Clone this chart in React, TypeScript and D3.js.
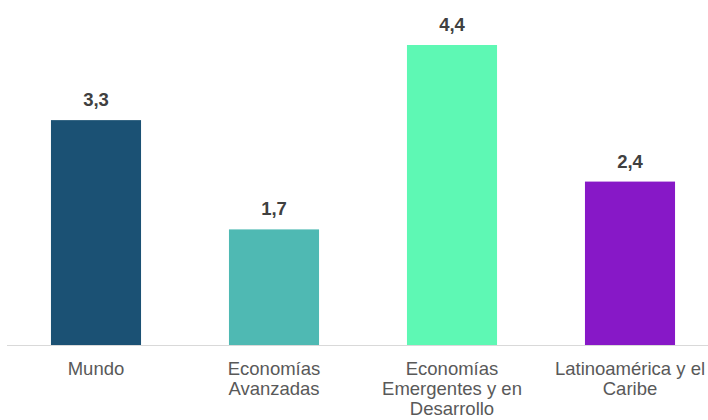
import React from "react";
import * as d3 from "d3";

const categories = ["Mundo", "Economías Avanzadas", "Economías Emergentes y en Desarrollo", "Latinoamérica y el Caribe"];
const labelLines = [["Mundo"], ["Economías", "Avanzadas"], ["Economías", "Emergentes y en", "Desarrollo"], ["Latinoamérica y el", "Caribe"]];
const values = [3.3, 1.7, 4.4, 2.4];
const colors = ["#1B5174", "#4FB9B3", "#5EF8B4", "#8718C7"];

const W = 708;
const H = 420;
const baseY = 345.5;

export default function App() {
  const x = d3.scaleBand<string>().domain(categories).range([7, 719]).paddingInner(0.494).paddingOuter(0.247);
  const y = d3.scaleLinear().domain([0, 4.4]).range([baseY, 45]);
  const fmt = (v: number) => v.toFixed(1).replace(".", ",");
  const font = "'Liberation Sans', Arial, sans-serif";
  return (
    <svg width={W} height={H} style={{ position: "absolute", left: 0, top: 0 }} fontFamily={font}>
      <rect x={0} y={0} width={W} height={H} fill="#ffffff" />
      {categories.map((c, i) => (
        <rect key={c} x={x(c)!} y={y(values[i])} width={x.bandwidth()} height={baseY - y(values[i])} fill={colors[i]} />
      ))}
      <line x1={7} x2={W} y1={baseY} y2={baseY} stroke="#D9D9D9" strokeWidth={1.2} />
      {categories.map((c, i) => (
        <text key={"v" + c} x={x(c)! + x.bandwidth() / 2} y={y(values[i]) - 14} textAnchor="middle" fontSize={18.5} fontWeight="bold" fill="#404040">
          {fmt(values[i])}
        </text>
      ))}
      {categories.map((c, i) => (
        <text key={"l" + c} x={x(c)! + x.bandwidth() / 2} y={375} textAnchor="middle" fontSize={18.5} fill="#595959">
          {labelLines[i].map((ln, j) => (
            <tspan key={j} x={x(c)! + x.bandwidth() / 2} y={375 + j * 20}>{ln}</tspan>
          ))}
        </text>
      ))}
    </svg>
  );
}
